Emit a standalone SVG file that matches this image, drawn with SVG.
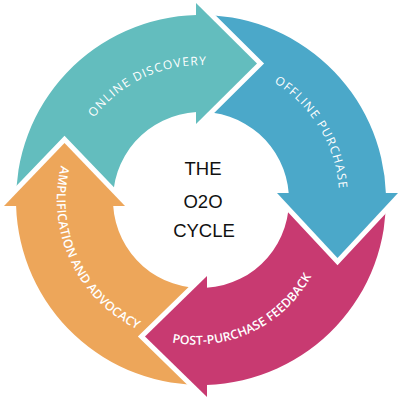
<svg xmlns="http://www.w3.org/2000/svg" width="400" height="400" viewBox="0 0 400 400">
<style>
.teal{fill:#63BDBE}
.blue{fill:#4BA8C9}
.mag{fill:#C83A71}
.org{fill:#EDA65A}
.gap{fill:none;stroke:#FFFFFF;stroke-width:10;stroke-linejoin:miter;stroke-miterlimit:10}
.lbl{fill:#FFFFFF;font-family:"Open Sans","Liberation Sans",sans-serif}
.thin{font-size:12px;letter-spacing:1.2px}
.med{font-size:12.3px;font-weight:600;letter-spacing:0.1px}
.ctr{font-family:"Liberation Sans",Arial,sans-serif;font-size:18.5px;fill:#111111;text-anchor:middle}
</style>
<defs>
<path id="pTeal" d="M 70.6 234.9 A 135 135 0 0 1 311.6 122.6"/>
<path id="pBlue" d="M 150.7 71.0 A 138.5 138.5 0 0 1 292.4 304.1"/>
<path id="pMag" d="M 88.8 289.2 A 131.5 131.5 0 0 0 322.8 178.1"/>
<path id="pOrg" d="M 118.4 82.0 A 144 144 0 0 0 238.3 339.1"/>
</defs>
<rect width="400" height="400" fill="#FFFFFF"/>
<g id="connectors">
<path class="teal" d="M 16.1 206 A 185 185 0 0 1 196.5 15.05 L 196.5 112.1 A 88 88 0 0 0 113.2 206 Z"/>
<path class="blue" d="M 196 15.07 A 185 185 0 0 1 385.9 193.5 L 288.76 193.5 A 88 88 0 0 0 196 112.14 Z"/>
<path class="mag" d="M 385.87 193 A 185 185 0 0 1 206.5 384.92 L 206.5 287.83 A 88 88 0 0 0 288.72 193 Z"/>
<path class="org" d="M 207 384.9 A 185 185 0 0 1 16.08 205.5 L 113.17 205.5 A 88 88 0 0 0 207 287.8 Z"/>
</g>
<g id="node-online-discovery">
<polyline class="gap" points="196,3 257,63.5 196,124"/>
<polygon class="teal" points="196,3 257,63.5 196,124"/>
<text class="lbl thin"><textPath href="#pTeal" startOffset="50%" text-anchor="middle">ONLINE  DISCOVERY</textPath></text>
</g>
<g id="node-offline-purchase">
<polyline class="gap" points="277,193 337.5,258 398,193"/>
<polygon class="blue" points="277,193 337.5,258 398,193"/>
<text class="lbl thin"><textPath href="#pBlue" startOffset="50%" text-anchor="middle">OFFLINE PURCHASE</textPath></text>
</g>
<g id="node-post-purchase-feedback">
<polyline class="gap" points="207,397 145,336.5 207,276"/>
<polygon class="mag" points="207,397 145,336.5 207,276"/>
<text class="lbl med"><textPath href="#pMag" startOffset="50%" text-anchor="middle">POST-PURCHASE FEEDBACK</textPath></text>
</g>
<g id="node-amplification-advocacy">
<polyline class="gap" points="4,206 64.5,143 125,206"/>
<polygon class="org" points="4,206 64.5,143 125,206"/>
<text class="lbl med"><textPath href="#pOrg" startOffset="50%" text-anchor="middle">AMPLIFICATION AND ADVOCACY</textPath></text>
</g>
<g id="node-center">
<text class="ctr" x="203" y="175">THE</text>
<text class="ctr" x="203" y="208">O2O</text>
<text class="ctr" x="204" y="237">CYCLE</text>
</g>
</svg>
